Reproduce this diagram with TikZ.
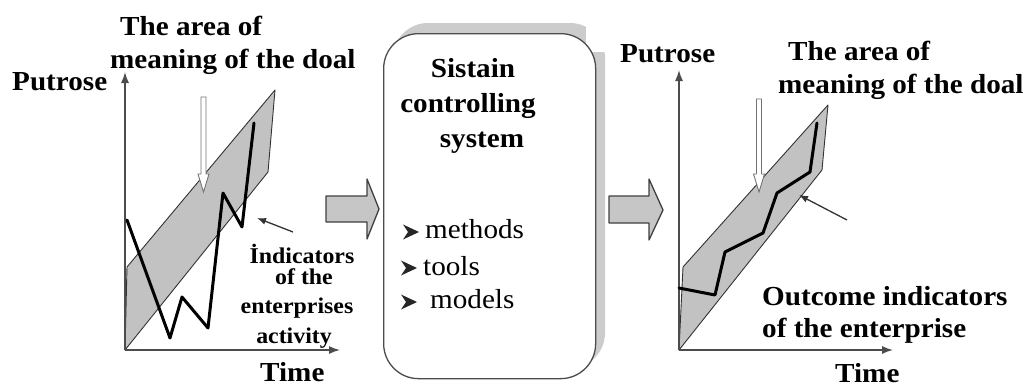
\documentclass[tikz,border=0pt]{standalone}
\usepackage{fontspec}
\setmainfont{Liberation Serif}[FakeStretch=1.06]
\usetikzlibrary{arrows.meta}
\tikzset{
  big/.style={font=\fontsize{27.5}{30}\selectfont\bfseries, inner sep=0pt, text=black},
  small/.style={font=\fontsize{22.5}{28}\selectfont\bfseries, inner sep=0pt, text=black},
  reg/.style={font=\fontsize{27.5}{30}\selectfont, inner sep=0pt, text=black},
  axis/.style={line width=1.4pt, draw=black!70, -{Latex[length=11pt,width=8pt]}},
  band/.style={fill=gray!48, draw=black!80, line width=0.9pt, line join=round},
  trend/.style={line width=3pt, draw=black, line join=round, line cap=round},
  pointer/.style={line width=1.3pt, draw=black!80, -{Latex[length=9pt,width=7pt]}},
  hollow/.style={fill=white, draw=black!55, line width=0.9pt},
  fat/.style={fill=gray!45, draw=black!75, line width=1.3pt, line join=round},
  bulletpic/.pic={\fill[black!85] (0,0) -- (-16,-7.5) -- (-11,0) -- (-16,7.5) -- cycle;}
}
\begin{document}
\begin{tikzpicture}[x=1pt,y=-1pt]
\useasboundingbox (0,0) rectangle (1029,386);
\fill[white] (0,0) rectangle (1029,386);

% ---------- left chart ----------
\coordinate (O1) at (125,350);
\coordinate (Y1) at (125,72);
\coordinate (X1) at (340,350);
\path[band] (125,350) -- (268,172) -- (275,90) -- (127,267) -- cycle;
\draw[axis] (O1) -- (Y1);
\draw[axis] (O1) -- (X1);
\draw[trend] (127,220) -- (170,338) -- (182,297) -- (208,328) -- (223,193) -- (242,227) -- (254,123);
\path[hollow] (201,97) -- (206,97) -- (206,174) -- (209,174) -- (203.5,192) -- (198,174) -- (201,174) -- cycle;
\coordinate (P1s) at (293,232);
\coordinate (P1e) at (257,218);
\draw[pointer] (P1s) -- (P1e);

\node[big, anchor=base west] (area1a) at (120,35) {The area of};
\node[big, anchor=base west] (area1b) at (110,68) {meaning of the doal};
\node[big, anchor=base west] (put1) at (12,90) {Putrose};
\node[small, anchor=base] (ind1) at (302,263) {İndicators};
\node[small, anchor=base] (ind2) at (304,284) {of the};
\node[small, anchor=base] (ind3) at (297,313) {enterprises};
\node[small, anchor=base] (ind4) at (294,343) {activity};
\node[big, anchor=base west] (time1) at (260,381) {Time};

% ---------- arrow 1 ----------
\path[fat] (326,196) -- (367,196) -- (367,179) -- (379,209) -- (367,239) -- (367,222) -- (326,222) -- cycle;

% ---------- middle box ----------
\fill[gray!40, rounded corners=35pt] (393,23) rectangle (605,368);
\fill[white] (586,16) rectangle (616,52);
\node[draw=black!70, line width=1.3pt, fill=white, rounded corners=35pt,
      minimum width=212pt, minimum height=345pt, anchor=north west, inner sep=0pt] (box) at (383,33) {};
\node[big, anchor=base] (s1) at (473,77) {Sistain};
\node[big, anchor=base] (s2) at (468,112) {controlling};
\node[big, anchor=base] (s3) at (482,147) {system};
\node[reg, anchor=base west] (m1) at (425,238) {methods};
\node[reg, anchor=base west] (m2) at (423,275) {tools};
\node[reg, anchor=base west] (m3) at (430,308) {models};
\pic at (419,232) {bulletpic};
\pic at (417,268) {bulletpic};
\pic at (417,302) {bulletpic};

% ---------- arrow 2 ----------
\path[fat] (609,196) -- (649,196) -- (649,179) -- (663,210) -- (649,240) -- (649,223) -- (609,223) -- cycle;

% ---------- right chart ----------
\coordinate (O2) at (679,350);
\coordinate (Y2) at (679,70);
\coordinate (X2) at (893,350);
\path[band] (679,350) -- (822,170) -- (828,105) -- (683,267) -- cycle;
\draw[axis] (O2) -- (Y2);
\draw[axis] (O2) -- (X2);
\draw[trend] (679,288) -- (715,295) -- (725,252) -- (763,233) -- (777,193) -- (810,172) -- (817,123);
\path[hollow] (756.5,99) -- (761.5,99) -- (761.5,174) -- (764.5,174) -- (759,192) -- (753.5,174) -- (756.5,174) -- cycle;
\coordinate (P2s) at (847,220);
\coordinate (P2e) at (799,195);
\draw[pointer] (P2s) -- (P2e);

\node[big, anchor=base west] (put2) at (620,62) {Putrose};
\node[big, anchor=base west] (area2a) at (788,60) {The area of};
\node[big, anchor=base west] (area2b) at (778,93) {meaning of the doal};
\node[big, anchor=base west] (out1) at (762,305) {Outcome indicators};
\node[big, anchor=base west] (out2) at (762,337) {of the enterprise};
\node[big, anchor=base west] (time2) at (835,382) {Time};
\end{tikzpicture}
\end{document}
